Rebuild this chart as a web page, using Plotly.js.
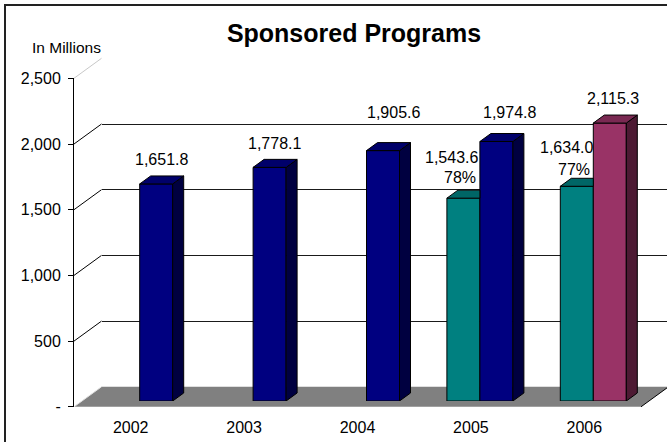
<!DOCTYPE html>
<html><head><meta charset="utf-8">
<script src="https://cdn.plot.ly/plotly-3.0.1.min.js"></script>
<style>html,body{margin:0;padding:0;background:#fff}#chart{width:667px;height:442px}</style>
</head><body><div id="chart"></div>
<script>
// ---- data ----
const years = ['2002', '2003', '2004', '2005', '2006'];
const shareValues = [null, null, null, 1543.6, 1634.0];
const sharePercents = ['', '', '', '78%', '77%'];
const totalValues = [1651.8, 1778.1, 1905.6, 1974.8, 2115.3];
const yTickVals = [0, 500, 1000, 1500, 2000, 2500];
const yTickText = ['-', '500', '1,000', '1,500', '2,000', '2,500'];

// ---- styles / geometry ----
const FONT = 'Liberation Sans, Arial, sans-serif';
const W = 667, H = 442;
const px = x => x / W, py = y => 1 - y / H;
const front = {l: 74, r: 641, y0: 406.8, y1: 78.3};
const bars  = {l: 83, r: 650, y0: 401.0, y1: 72.5};
const back  = {l: 101.5, r: 668.5, y0: 386.8, y1: 58.3};
const slot = (front.r - front.l) / 5;
const yPer = (front.y0 - front.y1) / 2500;
const barW = 33 / slot;
const dX = 11 / slot, dY = 8 / yPer;
const colorsShare = {front: '#008080', top: '#006666', side: '#004d4d'};
const colTotal = i => i === 4
  ? {front: '#993366', top: '#7a2952', side: '#4d1a33'}
  : {front: '#000080', top: '#00006a', side: '#000040'};
const fmt = v => v.toLocaleString('en-US', {minimumFractionDigits: 1, maximumFractionDigits: 1});

const traces = [];
// invisible anchors so the back-wall and front-plane subplots are rendered
traces.push({type: 'scatter', mode: 'markers', x: [0], y: [0], xaxis: 'x', yaxis: 'y',
  marker: {opacity: 0}, hoverinfo: 'skip'});
traces.push({type: 'scatter', mode: 'markers', x: [0], y: [0], xaxis: 'x2', yaxis: 'y2',
  marker: {opacity: 0}, hoverinfo: 'skip'});
traces.push({
  type: 'bar', x: [0,1,2,3,4], y: shareValues, xaxis: 'x3', yaxis: 'y3',
  marker: {color: colorsShare.front, line: {color: '#000', width: 1}}, hoverinfo: 'skip'
});
traces.push({
  type: 'bar', x: [0,1,2,3,4], y: totalValues, xaxis: 'x3', yaxis: 'y3',
  marker: {color: totalValues.map((v, i) => colTotal(i).front), line: {color: '#000', width: 1}}, hoverinfo: 'skip'
});
function poly(pts, fill) {
  traces.push({
    type: 'scatter', mode: 'lines', xaxis: 'x3', yaxis: 'y3', fill: 'toself',
    x: pts.map(p => p[0]).concat([pts[0][0]]), y: pts.map(p => p[1]).concat([pts[0][1]]),
    fillcolor: fill, line: {color: '#000', width: 1}, hoverinfo: 'skip'
  });
}
shareValues.forEach((v, i) => {
  if (v == null) return;
  const L = i - barW, R = i;
  poly([[L, v], [R, v], [R, v + dY], [L + dX, v + dY]], colorsShare.top);
});
totalValues.forEach((v, i) => {
  const L = i, R = i + barW, c = colTotal(i);
  poly([[R, 0], [R + dX, dY], [R + dX, v + dY], [R, v]], c.side);
  poly([[L, v], [R, v], [R + dX, v + dY], [L + dX, v + dY]], c.top);
});

// label pixel offsets (relative to bar face centre / top)
const totalShift = [[5.5, 24], [5, 24], [10, 38], [13, 29.5], [3.5, 24.5]];
const shareValShift = [null, null, null, [-12, 41], [-10.5, 38.5]];
const sharePctShift = [null, null, null, [-3, 21], [-2.5, 16.5]];
const annotations = [];
const lab = (x, y, text, s) => annotations.push({xref: 'x3', yref: 'y3', x: x, y: y, text: text, showarrow: false,
  xanchor: 'center', yanchor: 'middle', xshift: s[0], yshift: s[1], font: {size: 16, color: '#000'}});
totalValues.forEach((v, i) => lab(i + barW / 2, v, fmt(v), totalShift[i]));
shareValues.forEach((v, i) => {
  if (v == null) return;
  lab(i - barW / 2, v, fmt(v), shareValShift[i]);
  lab(i - barW / 2, v, sharePercents[i], sharePctShift[i]);
});
annotations.push({xref: 'paper', yref: 'paper', x: px(66), y: py(47.3), text: 'In Millions', showarrow: false,
  xanchor: 'center', yanchor: 'middle', font: {size: 15.5, color: '#000'}});

// frame decorations: floor, depth connectors, border
const shapes = [];
const fy = v => front.y0 - v * yPer, by = v => back.y0 - v * yPer;
shapes.push({type: 'path', xref: 'paper', yref: 'paper', layer: 'below',
  path: `M${px(front.l)},${py(front.y0)} L${px(front.r)},${py(front.y0)} L${px(back.r)},${py(back.y0)} L${px(back.l)},${py(back.y0)} Z`,
  fillcolor: '#808080', line: {width: 0}});
shapes.push({type: 'line', xref: 'paper', yref: 'paper', layer: 'below',
  x0: px(front.r), y0: py(front.y0), x1: px(back.r), y1: py(back.y0), line: {color: '#000', width: 1}});
yTickVals.forEach(v => {
  const col = (v === 0) ? '#e0e0e0' : (v === 2500 ? '#c8c8c8' : '#000');
  shapes.push({type: 'line', xref: 'paper', yref: 'paper', layer: 'below',
    x0: px(front.l), y0: py(fy(v)), x1: px(back.l), y1: py(by(v)), line: {color: col, width: 1}});
});
shapes.push({type: 'rect', xref: 'paper', yref: 'paper', x0: px(5), y0: py(5), x1: 1.2, y1: -0.2,
  line: {color: '#222', width: 2}, fillcolor: 'rgba(0,0,0,0)'});

const hidden = {showgrid: false, zeroline: false, showticklabels: false, ticks: '', showline: false, type: 'linear', fixedrange: true};
const layout = {
  width: W, height: H, margin: {l: 0, r: 0, t: 0, b: 0, pad: 0},
  paper_bgcolor: '#fff', plot_bgcolor: 'rgba(0,0,0,0)',
  showlegend: false, hovermode: false,
  font: {family: FONT, size: 16, color: '#000'},
  title: {text: '<b>Sponsored Programs</b>', font: {size: 25, family: FONT, color: '#000'},
    xref: 'paper', yref: 'paper', x: px(354), xanchor: 'center', y: py(33), yanchor: 'middle'},
  barmode: 'group', bargap: 1 - 2 * barW, bargroupgap: 0,
  // back wall
  xaxis: Object.assign({}, hidden, {domain: [px(back.l), 1], range: [-0.5, -0.5 + (W - back.l) / slot], anchor: 'y'}),
  yaxis: Object.assign({}, hidden, {domain: [py(back.y0), py(back.y1)], range: [0, 2500], anchor: 'x',
    showgrid: true, gridcolor: '#1a1a1a', gridwidth: 1, tickmode: 'array', tickvals: yTickVals.slice(1, 5)}),
  // front plane (axes)
  xaxis2: Object.assign({}, hidden, {domain: [px(front.l), px(front.r)], range: [-0.5, 4.5], anchor: 'y2',
    showticklabels: true, tickmode: 'array', tickvals: [0,1,2,3,4], ticktext: years, ticklabelstandoff: 9,
    tickfont: {size: 16, color: '#000'}}),
  yaxis2: Object.assign({}, hidden, {domain: [py(front.y0), py(front.y1)], range: [0, 2500], anchor: 'x2',
    showticklabels: true, tickmode: 'array', tickvals: yTickVals, ticktext: yTickText,
    showline: true, linecolor: '#000', linewidth: 1, ticks: 'outside', ticklen: 5, tickcolor: '#000', tickwidth: 1,
    ticklabelstandoff: 4, tickfont: {size: 16, color: '#000'}}),
  // bars plane
  xaxis3: Object.assign({}, hidden, {domain: [px(bars.l), px(bars.r)], range: [-0.5, 4.5], anchor: 'y3'}),
  yaxis3: Object.assign({}, hidden, {domain: [py(bars.y0), py(bars.y1)], range: [0, 2500], anchor: 'x3'}),
  shapes: shapes, annotations: annotations
};
Plotly.newPlot('chart', traces, layout, {displayModeBar: false, staticPlot: true});
</script></body></html>
